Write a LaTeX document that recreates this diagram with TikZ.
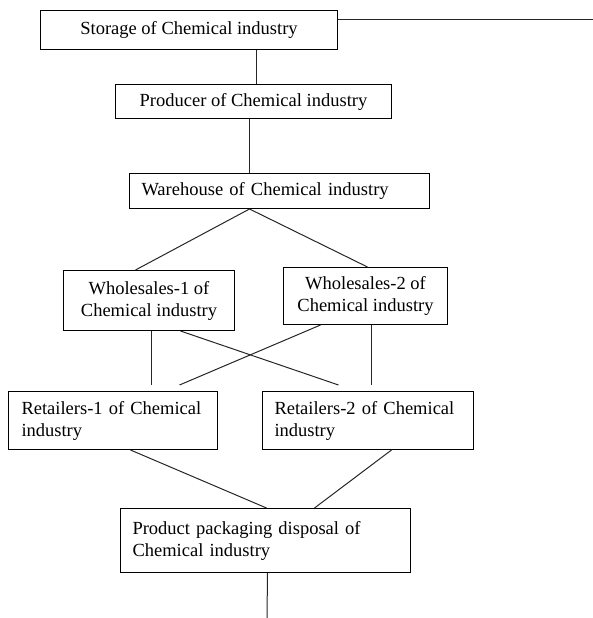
\documentclass[tikz,border=0pt]{standalone}
\usepackage{fontspec}
\setmainfont{Liberation Serif}
\begin{document}
\begin{tikzpicture}[x=1pt,y=-1pt,
  box/.style={draw=black,line width=1pt,anchor=north west,inner sep=0pt,
    font=\fontsize{18.5}{22}\selectfont},
  cbox/.style={box,align=center},
  lbox/.style={box,align=left},
  conn/.style={draw=black!85,line width=1pt}]
\useasboundingbox (0,0) rectangle (593,618);
\node[cbox,minimum width=297pt,minimum height=39pt] (storage) at (40,10) {Storage of Chemical industry};
\node[cbox,minimum width=276pt,minimum height=34pt] (producer) at (115,84) {Producer of Chemical industry};
\node[lbox,inner xsep=12pt,text width=276pt,minimum height=35pt] (warehouse) at (129,173) {Warehouse of Chemical industry};
\node[cbox,minimum width=171pt,minimum height=60pt] (w1) at (63,270) {Wholesales-1 of\\Chemical industry};
\node[cbox,minimum width=164pt,minimum height=57pt] (w2) at (283,267) {Wholesales-2 of\\Chemical industry};
\node[lbox,inner xsep=13pt,text width=183pt,minimum height=58pt] (r1) at (8,391) {Retailers-1 of Chemical\\industry};
\node[lbox,inner xsep=12pt,text width=187pt,minimum height=58pt] (r2) at (262,391) {Retailers-2 of Chemical\\industry};
\node[lbox,inner xsep=12pt,text width=266pt,minimum height=64pt] (p) at (120,508) {Product packaging disposal of\\Chemical industry};
\coordinate (rend) at (593,20);
\coordinate (pend) at (267,618);
\draw[conn] (rend -| storage.east) -- (rend);
\draw[conn] ([xshift=67.5pt]storage.south) -- ([xshift=3pt]producer.north);
\draw[conn] ([xshift=-4pt]producer.south) -- ([xshift=-30pt]warehouse.north);
\draw[conn] ([xshift=-30pt]warehouse.south) -- ([xshift=-13.5pt]w1.north);
\draw[conn] ([xshift=-30pt]warehouse.south) -- ([xshift=2pt]w2.north);
\draw[conn] ([xshift=2.5pt]w1.south) -- ([xshift=38.5pt,yshift=6pt]r1.north);
\draw[conn] ([xshift=31.5pt]w1.south) -- ([xshift=-29.5pt,yshift=6pt]r2.north);
\draw[conn] ([xshift=-45pt]w2.south) -- ([xshift=66.5pt,yshift=6pt]r1.north);
\draw[conn] ([xshift=6pt]w2.south) -- ([xshift=3.5pt,yshift=6pt]r2.north);
\draw[conn] ([xshift=17.5pt]r1.south) -- ([xshift=1pt]p.north);
\draw[conn] ([xshift=23.5pt]r2.south) -- ([xshift=49pt]p.north);
\draw[conn] ([xshift=2pt]p.south) -- (pend);
\end{tikzpicture}
\end{document}
